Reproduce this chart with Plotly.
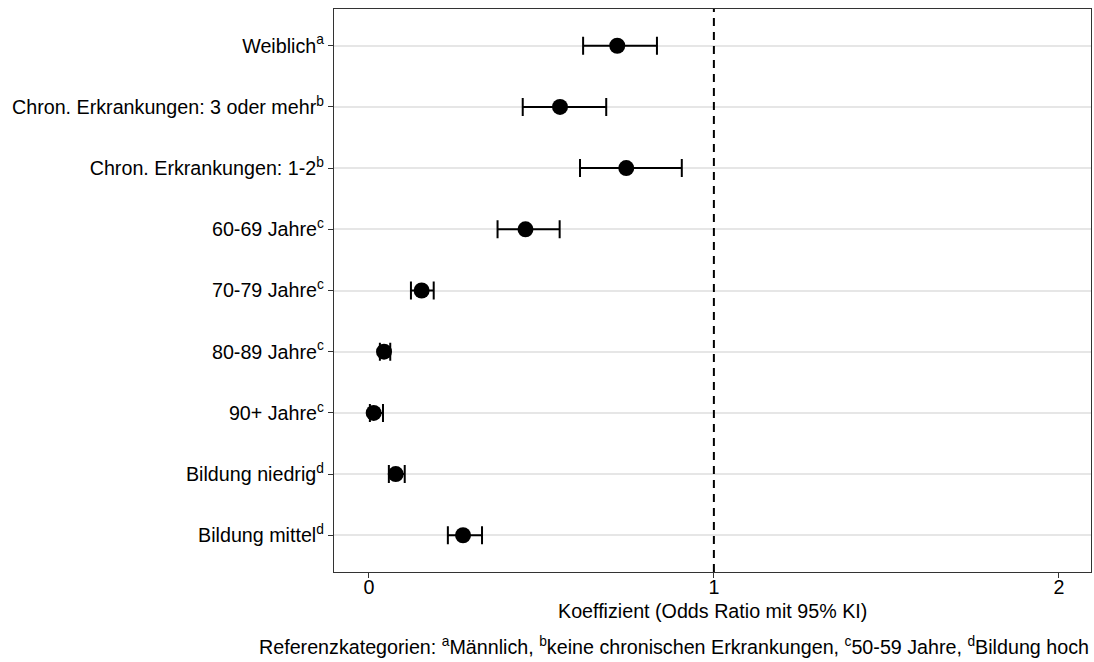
import plotly.graph_objects as go

categories = [
    "Weiblich<sup>a</sup>",
    "Chron. Erkrankungen: 3 oder mehr<sup>b</sup>",
    "Chron. Erkrankungen: 1-2<sup>b</sup>",
    "60-69 Jahre<sup>c</sup>",
    "70-79 Jahre<sup>c</sup>",
    "80-89 Jahre<sup>c</sup>",
    "90+ Jahre<sup>c</sup>",
    "Bildung niedrig<sup>d</sup>",
    "Bildung mittel<sup>d</sup>",
]
odds_ratio = [0.720, 0.554, 0.746, 0.454, 0.153, 0.044, 0.014, 0.078, 0.273]
ci_lower = [0.621, 0.446, 0.612, 0.373, 0.122, 0.032, 0.003, 0.058, 0.229]
ci_upper = [0.835, 0.688, 0.907, 0.553, 0.188, 0.062, 0.041, 0.104, 0.328]
x_ticks = [0, 1, 2]

x_title = "Koeffizient (Odds Ratio mit 95% KI)"
caption = ("Referenzkategorien: <sup>a</sup>Männlich, <sup>b</sup>keine chronischen Erkrankungen, "
           "<sup>c</sup>50-59 Jahre, <sup>d</sup>Bildung hoch")

FONT = "Liberation Sans, Arial, sans-serif"
FS = 19.7

err_plus = [u - m for u, m in zip(ci_upper, odds_ratio)]
err_minus = [m - l for m, l in zip(odds_ratio, ci_lower)]

fig = go.Figure()
fig.add_trace(go.Scatter(
    x=odds_ratio, y=categories, mode="markers",
    marker=dict(size=16, color="black"),
    error_x=dict(type="data", symmetric=False, array=err_plus, arrayminus=err_minus,
                 color="black", thickness=2, width=9),
    showlegend=False, hoverinfo="x+y",
))

fig.add_vline(x=1, line=dict(color="black", width=2, dash="8px,6px"))

fig.update_layout(
    width=1094, height=662,
    margin=dict(l=334, r=3, t=9, b=90),
    plot_bgcolor="white", paper_bgcolor="white",
    font=dict(family=FONT, size=FS, color="black"),
    xaxis=dict(
        range=[-0.101, 2.093], tickvals=x_ticks, ticktext=[str(t) for t in x_ticks],
        showgrid=False, zeroline=False,
        showline=True, mirror=True, linecolor="#333333", linewidth=1.3,
        ticks="outside", ticklen=5, tickcolor="#333333", tickwidth=1.3,
        tickfont=dict(size=FS, color="black"), ticklabelstandoff=-8,
    ),
    yaxis=dict(
        type="category", categoryorder="array", categoryarray=categories[::-1],
        range=[-0.6, 8.6],
        showgrid=True, gridcolor="#E6E6E6", gridwidth=1.5, zeroline=False,
        showline=True, mirror=True, linecolor="#333333", linewidth=1.3,
        ticks="outside", ticklen=5, tickcolor="#333333", tickwidth=1.3,
        tickfont=dict(size=FS, color="black"),
    ),
    annotations=[
        dict(text=x_title, xref="paper", yref="paper", x=0.5, y=0,
             xanchor="center", yanchor="middle", yshift=-39, showarrow=False,
             font=dict(size=FS, color="black")),
        dict(text=caption, xref="paper", yref="paper", x=1, y=0,
             xanchor="right", yanchor="middle", yshift=-74, showarrow=False,
             font=dict(size=FS, color="black")),
    ],
)

fig.write_html("out.html", config={"displayModeBar": False},
               post_script="document.body.style.margin='0';")
